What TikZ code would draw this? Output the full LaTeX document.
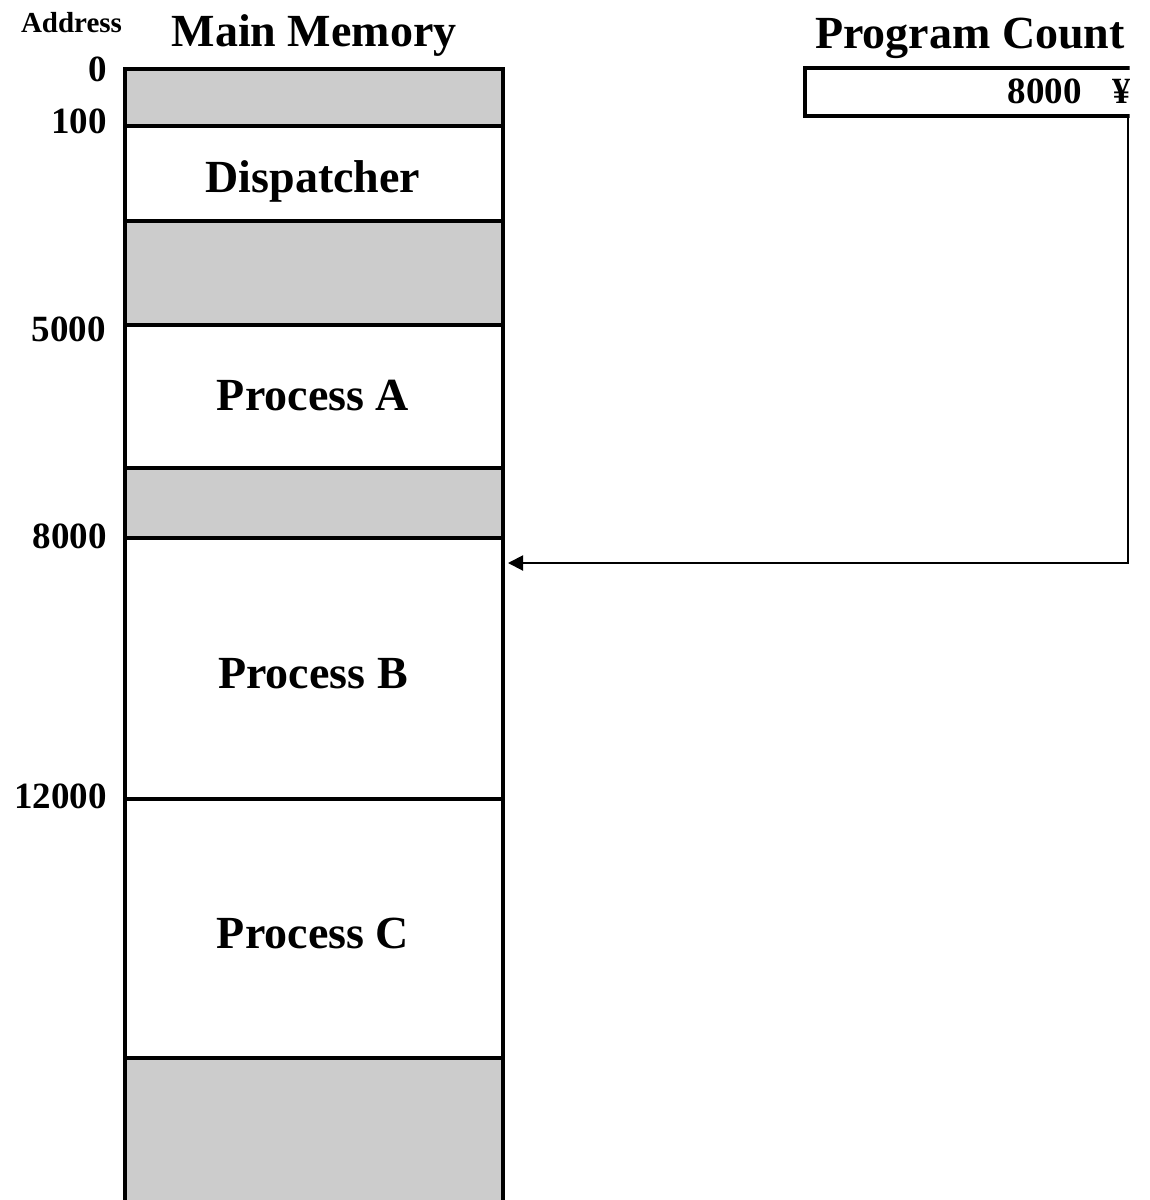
\documentclass[tikz,border=0pt]{standalone}
\usepackage{fontspec}
\setmainfont{Liberation Serif}
\usetikzlibrary{arrows.meta}
\definecolor{memgray}{HTML}{CCCCCC}
\begin{document}
\begin{tikzpicture}[x=1pt,y=-1pt,
  memblock/.style={draw=black, line width=4.5pt, rectangle, minimum width=378pt,
    inner sep=0pt, outer sep=0pt, anchor=north west, fill=white},
  freeblock/.style={memblock, fill=memgray},
  bigtext/.style={font=\fontsize{46}{50}\selectfont\bfseries, inner sep=0pt, anchor=base},
  addr/.style={font=\fontsize{37}{40}\selectfont\bfseries, anchor=base east, inner sep=0pt},
  pcbox/.style={draw=black, line width=4pt, rectangle, inner sep=0pt, outer sep=0pt,
    anchor=north west, minimum width=500pt, minimum height=48pt},
  pointer/.style={line width=2pt, -{Triangle[length=15pt,width=15pt]}}]
\useasboundingbox (0,0) rectangle (1150,1200);
\clip (0,0) rectangle (1129.5,1200);
% memory column
\node[freeblock, minimum height=57pt]  (top0)  at (125,69)   {};
\node[memblock,  minimum height=95pt]  (disp)  at (125,126)  {};
\node[freeblock, minimum height=104pt] (gap1)  at (125,221)  {};
\node[memblock,  minimum height=143pt] (procA) at (125,325)  {};
\node[freeblock, minimum height=70pt]  (gap2)  at (125,468)  {};
\node[memblock,  minimum height=261pt] (procB) at (125,538)  {};
\node[memblock,  minimum height=259pt] (procC) at (125,799)  {};
\node[freeblock, minimum height=220pt] (gap3)  at (125,1058) {};
% labels in blocks
\node[bigtext] (tdisp) at (313,192) {Dispatcher};
\node[bigtext] (tA) at (313,410) {Process A};
\node[bigtext] (tB) at (313,688) {Process B};
\node[bigtext] (tC) at (313,948) {Process C};
% headings
\node[font=\fontsize{29}{32}\selectfont\bfseries, anchor=base, inner sep=0pt] (taddr) at (71.5,32) {Address};
\node[bigtext] (tmm) at (314,46) {Main Memory};
\node[bigtext, anchor=base west] (tpc) at (815,48) {Program Count};
% addresses
\node[addr] (a0) at (107,81) {0};
\node[addr] (a100) at (107,133) {100};
\node[addr] (a5000) at (106,341) {5000};
\node[addr] (a8000) at (107,548) {8000};
\node[addr] (a12000) at (107,808) {12000};
% program counter
\node[pcbox] (pc) at (805,67.5) {};
\node[addr] (pcval) at (1082,103) {8000};
\node[font=\fontsize{37}{40}\selectfont\bfseries, anchor=base west, inner sep=0pt] (pcmark) at (1112,103) {¥};
% pointer
\coordinate (pcdrop) at (1128,115.5);
\coordinate (tipB) at (508,563);
\draw[pointer] (pcdrop) |- (tipB);
\end{tikzpicture}
\end{document}
